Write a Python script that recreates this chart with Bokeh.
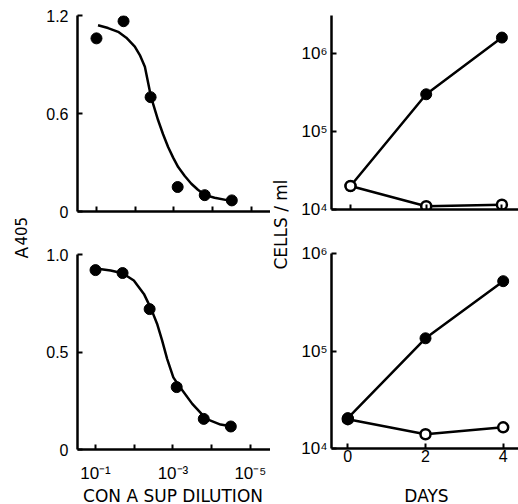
from bokeh.plotting import figure
from bokeh.layouts import row, column
from bokeh.models import Range1d, FixedTicker, Label
from bokeh.embed import file_html
from bokeh.resources import INLINE

# ---------------- data ----------------
dilution = [1e-1, 2e-2, 4e-3, 8e-4, 1.6e-4, 3.2e-5]
a405_top = [1.06, 1.165, 0.70, 0.15, 0.10, 0.068]
a405_bottom = [0.92, 0.905, 0.72, 0.32, 0.157, 0.118]

# fitted curves (log10 of dilution, A405)
fit_top_exp = [-1.04, -1.30, -1.56, -1.77, -1.99, -2.12, -2.25, -2.41, -2.50, -2.59,
               -2.72, -2.85, -2.98, -3.11, -3.28, -3.45, -3.62, -3.81, -4.05, -4.40, -4.53]
fit_top_val = [1.14, 1.123, 1.10, 1.064, 1.01, 0.958, 0.886, 0.70, 0.63, 0.56,
               0.473, 0.395, 0.33, 0.272, 0.217, 0.17, 0.133, 0.10, 0.084, 0.068, 0.065]
fit_bot_exp = [-1.06, -1.39, -1.70, -1.99, -2.25, -2.44, -2.59, -2.72, -2.85, -3.01,
               -3.18, -3.50, -3.86, -4.23, -4.54]
fit_bot_val = [0.927, 0.918, 0.904, 0.867, 0.798, 0.72, 0.645, 0.56, 0.465, 0.37,
               0.32, 0.234, 0.157, 0.128, 0.118]

days = [0, 2, 4]
top_stim = [2.0e4, 3.0e5, 1.6e6]
top_ctrl = [2.0e4, 1.1e4, 1.15e4]
bot_stim = [2.05e4, 1.35e5, 5.2e5]
bot_ctrl = [2.0e4, 1.4e4, 1.65e4]

dil_ticks = [1e-1, 1e-2, 1e-3, 1e-4, 1e-5]
dil_labels = {1e-1: "10\u207b\u00b9", 1e-2: " ", 1e-3: "10\u207b\u00b3", 1e-4: " ", 1e-5: "10\u207b\u2075"}
cell_ticks = [1e4, 1e5, 1e6]
cell_labels = {1e4: "10\u2074", 1e5: "10\u2075", 1e6: "10\u2076"}
day_ticks = [0, 2, 4]
top_a_ticks = [0.0, 0.6, 1.2]
top_a_labels = {0.0: "0", 0.6: "0.6", 1.2: "1.2"}
bot_a_ticks = [0.0, 0.5, 1.0]
bot_a_labels = {0.0: "0", 0.5: "0.5", 1.0: "1.0"}

TICK_FONT = "Liberation Sans"
TITLE_FONT = "DejaVu Sans"


def panel(left, fw, right, top, fh, bottom, xr, yr, xtype, ytype):
    p = figure(frame_width=fw, frame_height=fh, title=None,
               min_border_left=left, min_border_right=right,
               min_border_top=top, min_border_bottom=bottom,
               x_range=xr, y_range=yr, x_axis_type=xtype, y_axis_type=ytype,
               output_backend="svg", toolbar_location=None)
    p.grid.visible = False
    p.outline_line_color = None
    for ax in (p.xaxis[0], p.yaxis[0]):
        ax.axis_line_width = 2.5
        ax.axis_line_color = "black"
        ax.major_tick_line_width = 2
        ax.major_tick_line_color = "black"
        ax.major_tick_in = 5
        ax.major_tick_out = 0
        ax.minor_tick_line_color = None
        ax.major_label_text_font = TICK_FONT
        ax.major_label_text_font_size = "16px"
        ax.major_label_text_color = "black"
    return p


def blank(w, h):
    p = figure(width=w, height=h, title=None, x_range=Range1d(0, w), y_range=Range1d(0, h),
               min_border=0, x_axis_location=None, y_axis_location=None,
               output_backend="svg", toolbar_location=None)
    p.grid.visible = False
    p.outline_line_color = None
    return p


# ---------------- top-left ----------------
tl = panel(40, 194, 0, 15, 196, 21, Range1d(10 ** -0.51, 10 ** -5.52), Range1d(0, 1.2), "log", "linear")
tl.xaxis.ticker = FixedTicker(ticks=dil_ticks)
tl.xaxis.major_label_text_color = None
tl.xaxis.major_label_standoff = 0
tl.yaxis.ticker = FixedTicker(ticks=top_a_ticks)
tl.yaxis.major_label_overrides = top_a_labels
tl.yaxis.major_label_standoff = 9
tl.line([10 ** e for e in fit_top_exp], fit_top_val, line_width=2.5, color="black")
tl.scatter(dilution, a405_top, size=11, color="black")

# ---------------- bottom-left ----------------
bl = panel(41, 193, 0, 22, 195, 34, Range1d(10 ** -0.535, 10 ** -5.52), Range1d(0, 1.0), "log", "linear")
bl.xaxis.ticker = FixedTicker(ticks=dil_ticks)
bl.xaxis.major_label_overrides = dil_labels
bl.xaxis.major_label_standoff = 14
bl.xaxis.major_label_text_font_size = "17px"
bl.yaxis.ticker = FixedTicker(ticks=bot_a_ticks)
bl.yaxis.major_label_overrides = bot_a_labels
bl.yaxis.major_label_standoff = 9
bl.line([10 ** e for e in fit_bot_exp], fit_bot_val, line_width=2.5, color="black")
bl.scatter(dilution, a405_bottom, size=11, color="black")

# ---------------- top-right ----------------
tr = panel(33, 191, 0, 15, 194, 23, Range1d(-0.502, 4.544), Range1d(1e4, 10 ** 6.487), "linear", "log")
tr.xaxis.ticker = FixedTicker(ticks=day_ticks)
tr.xaxis.major_label_text_color = None
tr.xaxis.major_label_standoff = 0
tr.yaxis.ticker = FixedTicker(ticks=cell_ticks)
tr.yaxis.major_label_overrides = cell_labels
tr.yaxis.major_label_standoff = 4
tr.yaxis.major_label_text_font_size = "17px"
tr.line(days, top_stim, line_width=2.5, color="black")
tr.line(days, top_ctrl, line_width=2.5, color="black")
tr.scatter(days, top_stim, size=11, color="black")
tr.scatter(days, top_ctrl, size=10, fill_color="white", line_color="black", line_width=2.5)

# ---------------- bottom-right ----------------
br = panel(37, 187, 0, 21, 195, 35, Range1d(-0.42, 4.394), Range1d(1e4, 1e6), "linear", "log")
br.xaxis.ticker = FixedTicker(ticks=day_ticks)
br.xaxis.major_label_standoff = 1
br.yaxis.ticker = FixedTicker(ticks=cell_ticks)
br.yaxis.major_label_overrides = cell_labels
br.yaxis.major_label_standoff = 4
br.yaxis.major_label_text_font_size = "17px"
br.line(days, bot_stim, line_width=2.5, color="black")
br.line(days, bot_ctrl, line_width=2.5, color="black")
br.scatter(days, bot_ctrl, size=10, fill_color="white", line_color="black", line_width=2.5)
br.scatter(days, bot_stim, size=11, color="black")

# ---------------- text strips ----------------
lab_a = blank(36, 483)
lab_a.add_layout(Label(x=21, y=225, text="A", angle=90, angle_units="deg",
                       text_font=TITLE_FONT, text_font_size="17px", text_color="black",
                       text_align="left", text_baseline="middle"))
lab_a.add_layout(Label(x=20, y=238, text="405", angle=90, angle_units="deg",
                       text_font=TITLE_FONT, text_font_size="15px", text_color="black",
                       text_align="left", text_baseline="middle"))

lab_c = blank(24, 483)
lab_c.add_layout(Label(x=10, y=259, text="CELLS / ml", angle=90, angle_units="deg",
                       text_font=TITLE_FONT, text_font_size="17px", text_color="black",
                       text_align="center", text_baseline="middle"))

strip = blank(518, 21)
strip.add_layout(Label(x=172.5, y=11, text="CON A SUP DILUTION",
                       text_font=TITLE_FONT, text_font_size="17px", text_color="black",
                       text_align="center", text_baseline="middle"))
strip.add_layout(Label(x=426, y=11, text="DAYS",
                       text_font=TITLE_FONT, text_font_size="17px", text_color="black",
                       text_align="center", text_baseline="middle"))

layout = column(row(lab_a, column(tl, bl), lab_c, column(tr, br)), strip)

open("out.html", "w").write(file_html(layout, INLINE))
